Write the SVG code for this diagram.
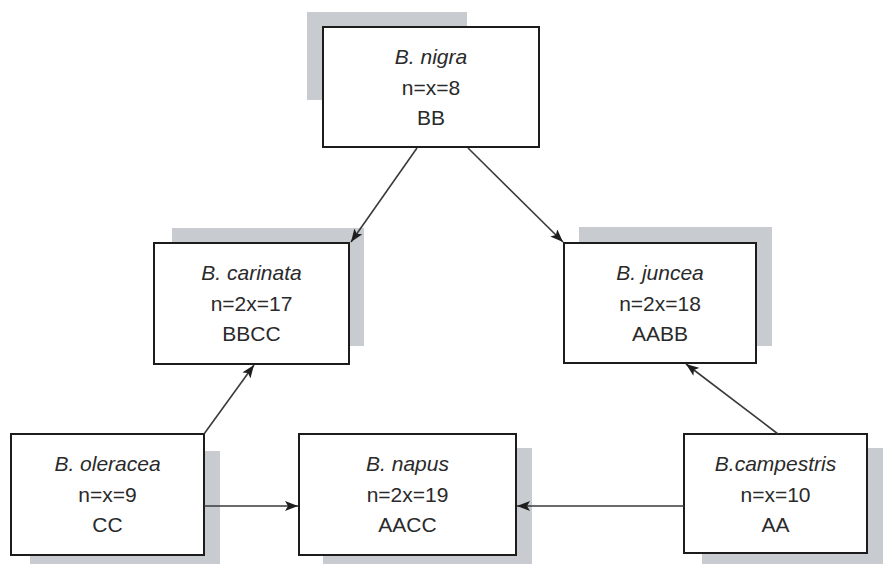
<svg xmlns="http://www.w3.org/2000/svg" width="885" height="564" viewBox="0 0 885 564">
  <style>
    .shadow { fill: #c8ccd0; }
    .box { fill: #ffffff; stroke: #1c1c1c; stroke-width: 2; }
    .t { font-family: "Liberation Sans", Arial, sans-serif; font-size: 21px; fill: #2a2a2a; text-anchor: middle; }
    .i { font-style: italic; }
    .edge { stroke: #3a3a3a; stroke-width: 1.6; fill: none; marker-end: url(#arr); }
  </style>
  <defs>
    <marker id="arr" markerUnits="userSpaceOnUse" markerWidth="14" markerHeight="10" refX="13" refY="5" orient="auto">
      <path d="M0,0 L13,5 L0,10 L3,5 Z" fill="#1e1e1e"/>
    </marker>
  </defs>
  <rect width="885" height="564" fill="#ffffff"/>

  <g id="nigra">
    <rect class="shadow" x="307" y="12" width="160" height="88"/>
    <rect class="box" x="323" y="27" width="216" height="120"/>
    <text class="t i" x="431" y="64">B. nigra</text>
    <text class="t" x="431" y="95">n=x=8</text>
    <text class="t" x="431" y="125">BB</text>
  </g>

  <g id="carinata">
    <rect class="shadow" x="172" y="228" width="192" height="118"/>
    <rect class="box" x="154" y="243" width="195" height="121"/>
    <text class="t i" x="251.5" y="280">B. carinata</text>
    <text class="t" x="251.5" y="311">n=2x=17</text>
    <text class="t" x="251.5" y="341">BBCC</text>
  </g>

  <g id="juncea">
    <rect class="shadow" x="579" y="227" width="193" height="119"/>
    <rect class="box" x="564" y="243" width="192" height="120"/>
    <text class="t i" x="660" y="280">B. juncea</text>
    <text class="t" x="660" y="311">n=2x=18</text>
    <text class="t" x="660" y="341">AABB</text>
  </g>

  <g id="oleracea">
    <rect class="shadow" x="30" y="451" width="190" height="113"/>
    <rect class="box" x="11" y="434" width="193" height="121"/>
    <text class="t i" x="107.5" y="471">B. oleracea</text>
    <text class="t" x="107.5" y="502">n=x=9</text>
    <text class="t" x="107.5" y="532">CC</text>
  </g>

  <g id="napus">
    <rect class="shadow" x="323" y="448" width="209" height="116"/>
    <rect class="box" x="299" y="434" width="217" height="121"/>
    <text class="t i" x="407.5" y="471">B. napus</text>
    <text class="t" x="407.5" y="502">n=2x=19</text>
    <text class="t" x="407.5" y="532">AACC</text>
  </g>

  <g id="campestris">
    <rect class="shadow" x="702" y="448" width="181" height="116"/>
    <rect class="box" x="684" y="434" width="183" height="119"/>
    <text class="t i" x="775.5" y="471">B.campestris</text>
    <text class="t" x="775.5" y="502">n=x=10</text>
    <text class="t" x="775.5" y="532">AA</text>
  </g>

  <g id="connectors">
    <line class="edge" x1="417" y1="148" x2="351" y2="242"/>
    <line class="edge" x1="468" y1="148" x2="563" y2="242"/>
    <line class="edge" x1="204" y1="434" x2="254" y2="365"/>
    <line class="edge" x1="204" y1="506" x2="298" y2="506"/>
    <line class="edge" x1="684" y1="506" x2="517" y2="506"/>
    <line class="edge" x1="778" y1="434" x2="686" y2="364"/>
  </g>
</svg>
